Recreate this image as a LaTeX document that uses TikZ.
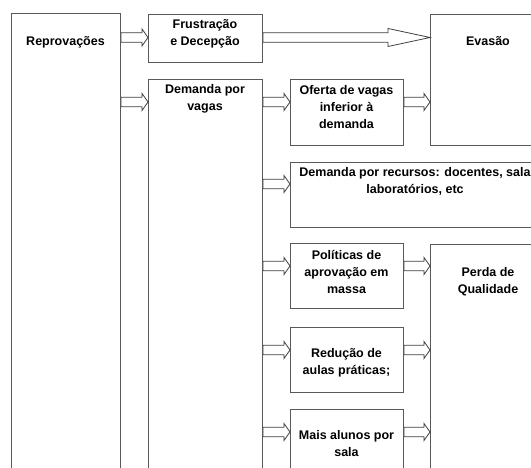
\documentclass[tikz,border=0pt]{standalone}
\usepackage{fontspec}
\setmainfont{Liberation Sans}
\usetikzlibrary{calc}
\tikzset{
  box/.style={draw=black!65, line width=0.9pt, fill=white, inner sep=0pt, anchor=north west},
  lbl/.style={inner sep=0pt, align=center, anchor=north, font=\fontsize{12.5}{17}\selectfont\bfseries},
  barrowstyle/.style={draw=black!75, line width=0.8pt, fill=white, line join=miter},
}
\newcommand\barrow[5]{% source, target, y-coordinate, head length, head half-height
  \draw[barrowstyle] let \p1=(#1.east |- #3), \p2=(#2.west |- #3) in
    (\x1,\y1+4.7pt) -- (\x2-#4,\y1+4.7pt) -- (\x2-#4,\y1+#5) -- (\x2,\y1)
    -- (\x2-#4,\y1-#5) -- (\x2-#4,\y1-4.7pt) -- (\x1,\y1-4.7pt) -- cycle;}
\begin{document}
\begin{tikzpicture}[x=1pt,y=-1pt]
\useasboundingbox (0,0) rectangle (531,468);
\clip (0,0) rectangle (531,468);
% boxes
\node[box, minimum width=109pt, minimum height=470pt] (rep) at (11,13) {};
\node[box, minimum width=114pt, minimum height=48pt] (frus) at (148,14) {};
\node[box, minimum width=114pt, minimum height=400pt] (dem) at (148,79) {};
\node[box, minimum width=116pt, minimum height=131pt] (evas) at (430,14) {};
\node[box, minimum width=113pt, minimum height=66pt] (ofer) at (290,79) {};
\node[box, minimum width=255pt, minimum height=65pt] (recur) at (290,162) {};
\node[box, minimum width=113pt, minimum height=65pt] (pol) at (290,243) {};
\node[box, minimum width=116pt, minimum height=240pt] (perda) at (430,244) {};
\node[box, minimum width=113pt, minimum height=65pt] (red) at (290,327) {};
\node[box, minimum width=113pt, minimum height=70pt] (mais) at (290,409) {};
% labels
\node[lbl] (trep) at (65.5,33.5) {\rule{0pt}{12pt}Reprovações};
\node[lbl] (tfrus) at (205,16.5) {\rule{0pt}{12pt}Frustração\\e Decepção};
\node[lbl] (tdem) at (205,81.5) {\rule{0pt}{12pt}Demanda por\\vagas};
\node[lbl] (tevas) at (488,33.5) {\rule{0pt}{12pt}Evasão};
\node[lbl] (tofer) at (346.5,82.5) {\rule{0pt}{12pt}Oferta de vagas\\inferior à\\demanda};
\node[lbl] (trecur) at (415,164.5) {\rule{0pt}{12pt}Demanda por recursos: docentes, sala\\laboratórios, etc};
\node[lbl] (tpol) at (346.5,247.5) {\rule{0pt}{12pt}Políticas de\\aprovação em\\massa};
\node[lbl] (tperda) at (488,264.5) {\rule{0pt}{12pt}Perda de\\Qualidade};
\node[lbl] (tred) at (346.5,345.5) {\rule{0pt}{12pt}Redução de\\aulas práticas;};
\node[lbl] (tmais) at (346.5,427.5) {\rule{0pt}{12pt}Mais alunos por\\sala};
% arrow rows
\coordinate (y1) at (0,37.5);
\coordinate (y2) at (0,102);
\coordinate (y3) at (0,184);
\coordinate (y4) at (0,266);
\coordinate (y5) at (0,350);
\coordinate (y6) at (0,432);
\barrow{rep}{frus}{y1}{6pt}{8.5pt}
\barrow{rep}{dem}{y2}{6pt}{8.5pt}
\barrow{frus}{evas}{y1}{42pt}{9pt}
\barrow{dem}{ofer}{y2}{6pt}{8.5pt}
\barrow{ofer}{evas}{y2}{6pt}{8.5pt}
\barrow{dem}{recur}{y3}{6pt}{8.5pt}
\barrow{dem}{pol}{y4}{6pt}{8.5pt}
\barrow{pol}{perda}{y4}{6pt}{8.5pt}
\barrow{dem}{red}{y5}{6pt}{8.5pt}
\barrow{red}{perda}{y5}{6pt}{8.5pt}
\barrow{dem}{mais}{y6}{6pt}{8.5pt}
\barrow{mais}{perda}{y6}{6pt}{8.5pt}
\end{tikzpicture}
\end{document}
